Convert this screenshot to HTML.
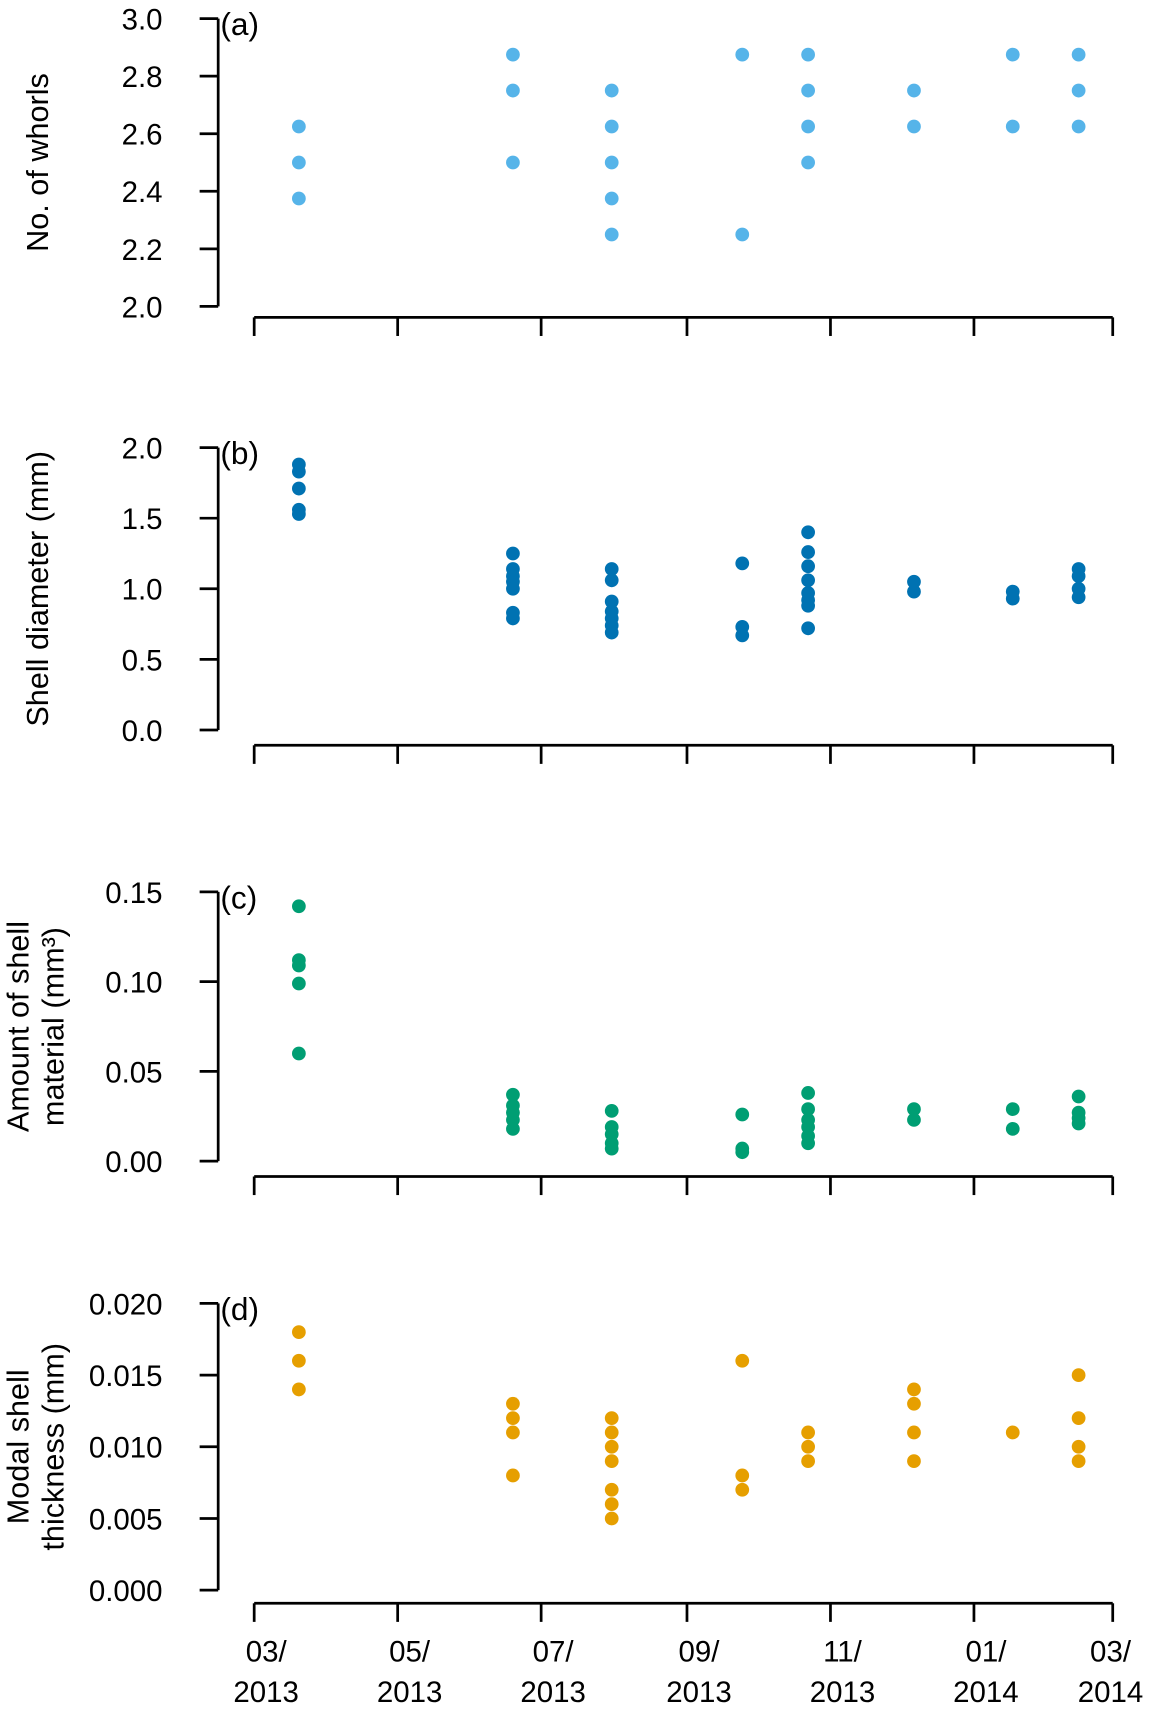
<!DOCTYPE html>
<html><head><meta charset="utf-8"><style>
html,body{margin:0;padding:0;background:#fff;}
svg{display:block;}
text{font-family:"Liberation Sans",sans-serif;fill:#000;}
</style></head><body>
<svg id="chart" width="1152" height="1716" viewBox="0 0 1056 1568" preserveAspectRatio="none" xmlns="http://www.w3.org/2000/svg"></svg>
<script>
// day offsets from 2013-03-01 for sampling dates
const sampleDays = [19, 110, 152, 207.5, 235.5, 280.5, 322.5, 350.5];
const tickLabelsTop = ["03/","05/","07/","09/","11/","01/","03/"];
const tickLabelsBottom = ["2013","2013","2013","2013","2013","2014","2014"];
const tickDays = [0, 61, 122, 184, 245, 306, 365];
const whorls = [[2.625,2.5,2.375],[2.875,2.75,2.5],[2.75,2.625,2.5,2.375,2.25],[2.875,2.25],[2.875,2.75,2.625,2.5],[2.75,2.625],[2.875,2.625],[2.875,2.75,2.625]];
const diameter = [[1.88,1.83,1.71,1.56,1.53],[1.25,1.14,1.09,1.05,1.0,0.83,0.79],[1.14,1.06,0.91,0.84,0.79,0.74,0.69],[1.18,0.73,0.67],[1.40,1.26,1.16,1.06,0.97,0.92,0.88,0.72],[1.05,0.98],[0.98,0.93],[1.14,1.09,1.0,0.94]];
const material = [[0.142,0.112,0.109,0.099,0.060],[0.037,0.031,0.027,0.023,0.018],[0.028,0.019,0.015,0.010,0.007],[0.026,0.007,0.005],[0.038,0.029,0.023,0.019,0.014,0.010],[0.029,0.023],[0.029,0.018],[0.036,0.027,0.024,0.021]];
const thickness = [[0.018,0.016,0.014],[0.013,0.012,0.011,0.008],[0.012,0.011,0.010,0.009,0.007,0.006,0.005],[0.016,0.008,0.007],[0.011,0.010,0.009],[0.014,0.013,0.011,0.009],[0.011],[0.015,0.012,0.010,0.009]];
const ticksA = ["2.0","2.2","2.4","2.6","2.8","3.0"];
const ticksB = ["0.0","0.5","1.0","1.5","2.0"];
const ticksC = ["0.00","0.05","0.10","0.15"];
const ticksD = ["0.000","0.005","0.010","0.015","0.020"];

const NS="http://www.w3.org/2000/svg";
const svg=document.getElementById('chart');
function mk(tag,attrs,parent){const e=document.createElementNS(NS,tag);for(const k in attrs)e.setAttribute(k,attrs[k]);(parent||svg).appendChild(e);return e;}
const x0=233,x1=1020;
function xs(d){return x0+(d/365)*(x1-x0);}

const panels=[
 {key:'a',data:whorls,ticks:ticksA,min:2,max:3,yTop:17,yBot:280,xAxis:290,color:'#56B4E9',title:['No. of whorls']},
 {key:'b',data:diameter,ticks:ticksB,min:0,max:2,yTop:409,yBot:667,xAxis:681,color:'#0072B2',title:['Shell diameter (mm)']},
 {key:'c',data:material,ticks:ticksC,min:0,max:0.15,yTop:815,yBot:1061,xAxis:1075,color:'#009E73',title:['Amount of shell','material (mm³)']},
 {key:'d',data:thickness,ticks:ticksD,min:0,max:0.02,yTop:1191,yBot:1453,xAxis:1465,color:'#E69F00',title:['Modal shell','thickness (mm)']}
];
panels.forEach((p,pi)=>{
 const g=mk('g',{});
 
 
 const ys=v=>p.yBot-(v-p.min)/(p.max-p.min)*(p.yBot-p.yTop);
 const ya=mk('line',{x1:200,x2:200,y1:p.yTop,y2:p.yBot,stroke:'#000','stroke-width':2.5},g);
 
 
 p.ticks.forEach(t=>{
  const y=ys(parseFloat(t));
  mk('line',{x1:183,x2:200,y1:y,y2:y,stroke:'#000','stroke-width':2.5},g);
  const tx=mk('text',{x:149,y:y+10,'text-anchor':'end','font-size':27},g);
  tx.textContent=t;
  
  
 });
 const xa=mk('line',{x1:x0,x2:x1,y1:p.xAxis,y2:p.xAxis,stroke:'#000','stroke-width':2.5},g);
 
 
 tickDays.forEach((d,i)=>{
  const x=xs(d);
  mk('line',{x1:x,x2:x,y1:p.xAxis,y2:p.xAxis+17,stroke:'#000','stroke-width':2.5},g);
  if(p.key==='d'){
   const cx=Math.min(x+11,1018);
   const t1=mk('text',{x:cx,y:1518,'text-anchor':'middle','font-size':27},g);
   t1.textContent=tickLabelsTop[i];
   
   
   const t2=mk('text',{x:cx,y:1555,'text-anchor':'middle','font-size':27},g);
   t2.textContent=tickLabelsBottom[i];
   
   
  }
 });
 const pl=mk('text',{x:202,y:p.yTop+15,'font-size':29},g);
 pl.textContent='('+p.key+')';
 
 
 const cy=(p.yTop+p.yBot)/2;
 p.title.forEach((line,li)=>{
  const cx=p.title.length===1?44:26+li*32;
  const t=mk('text',{x:cx,y:cy,'text-anchor':'middle','font-size':28,transform:`rotate(-90 ${cx} ${cy})`},g);
  t.textContent=line;
  
  
 });
 p.data.forEach((vals,di)=>{
  vals.forEach(v=>{
   const c=mk('circle',{cx:xs(sampleDays[di]),cy:ys(v),r:6.3,fill:p.color},g);
   
   
  });
 });
});
</script>
</body></html>
